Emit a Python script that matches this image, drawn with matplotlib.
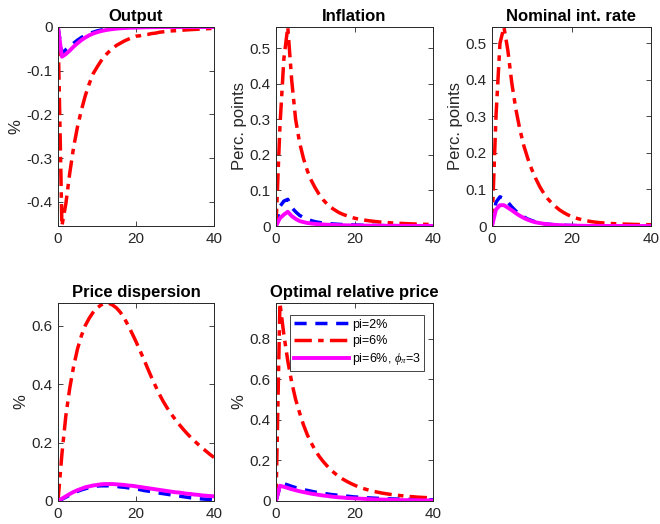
import matplotlib
matplotlib.use("Agg")
import matplotlib.pyplot as plt
from matplotlib.ticker import FormatStrFormatter

plt.rcParams['font.family'] = ['Liberation Sans', 'DejaVu Sans']
plt.rcParams['mathtext.fontset'] = 'custom'
plt.rcParams['mathtext.it'] = 'Liberation Serif:italic'

# quarters after the shock
periods = list(range(41))

# ---------------------------------------------------
# impulse responses
# Output (%)
out_2 = [0, -0.060, -0.052, -0.045, -0.037, -0.030, -0.024, -0.019, -0.015, -0.012,
         -0.009, -0.007, -0.0055, -0.0043, -0.0034, -0.0027, -0.0021, -0.0017, -0.0013, -0.0010,
         -0.0008, -0.0007, -0.0006, -0.0005, -0.0004, -0.0003, -0.0003, -0.0002, -0.0002, -0.0002,
         -0.0001, -0.0001, -0.0001, -0.0001, -0.0001, 0, 0, 0, 0, 0, 0]
out_6 = [0, -0.455, -0.405, -0.335, -0.275, -0.228, -0.190, -0.157, -0.130, -0.107,
         -0.092, -0.078, -0.066, -0.057, -0.049, -0.042, -0.037, -0.032, -0.028, -0.024,
         -0.021, -0.020, -0.018, -0.017, -0.015, -0.014, -0.012, -0.011, -0.010, -0.009,
         -0.0085, -0.008, -0.0072, -0.0066, -0.006, -0.0055, -0.005, -0.0045, -0.004, -0.0036, -0.0032]
out_6phi = [0, -0.068, -0.062, -0.054, -0.045, -0.037, -0.030, -0.024, -0.019, -0.015,
            -0.012, -0.0095, -0.0075, -0.006, -0.0048, -0.0038, -0.003, -0.0024, -0.0019, -0.0015,
            -0.0012, -0.001, -0.0008, -0.0006, -0.0005, -0.0004, -0.0003, -0.0003, -0.0002, -0.0002,
            -0.0001, -0.0001, -0.0001, -0.0001, 0, 0, 0, 0, 0, 0, 0]

# Inflation (perc. points)
infl_2 = [0, 0.055, 0.070, 0.075, 0.052, 0.040, 0.030, 0.024, 0.019, 0.015,
          0.012, 0.010, 0.0085, 0.0072, 0.0062, 0.0054, 0.0047, 0.0041, 0.0036, 0.0032,
          0.0028, 0.0025, 0.0022, 0.002, 0.0018, 0.0016, 0.0014, 0.0013, 0.0012, 0.0011,
          0.001, 0.0009, 0.0008, 0.0007, 0.0007, 0.0006, 0.0006, 0.0005, 0.0005, 0.0004, 0.0004]
infl_6 = [0, 0.28, 0.47, 0.56, 0.41, 0.30, 0.235, 0.19, 0.155, 0.128,
          0.107, 0.089, 0.074, 0.062, 0.052, 0.045, 0.038, 0.033, 0.029, 0.025,
          0.022, 0.0195, 0.0175, 0.0158, 0.0143, 0.013, 0.0118, 0.0108, 0.0099, 0.0091,
          0.0084, 0.0078, 0.0072, 0.0067, 0.0062, 0.0058, 0.0054, 0.005, 0.0047, 0.0044, 0.0041]
infl_6phi = [0, 0.022, 0.032, 0.040, 0.028, 0.020, 0.014, 0.011, 0.0085, 0.007,
             0.0058, 0.005, 0.0043, 0.0037, 0.0032, 0.0028, 0.0024, 0.0021, 0.0019, 0.0017,
             0.0015, 0.0013, 0.0012, 0.0011, 0.001, 0.0009, 0.0008, 0.0007, 0.0007, 0.0006,
             0.0006, 0.0005, 0.0005, 0.0004, 0.0004, 0.0004, 0.0003, 0.0003, 0.0003, 0.0003, 0.0002]

# Nominal interest rate (perc. points)
rate_2 = [0, 0.065, 0.080, 0.075, 0.065, 0.052, 0.041, 0.032, 0.025, 0.019,
          0.015, 0.011, 0.0085, 0.0065, 0.005, 0.004, 0.0031, 0.0025, 0.002, 0.0016,
          0.0013, 0.001, 0.0008, 0.0007, 0.0006, 0.0005, 0.0004, 0.0003, 0.0003, 0.0002,
          0.0002, 0.0002, 0.0001, 0.0001, 0.0001, 0.0001, 0, 0, 0, 0, 0]
rate_6 = [0, 0.30, 0.50, 0.545, 0.48, 0.39, 0.32, 0.265, 0.22, 0.185,
          0.155, 0.13, 0.108, 0.09, 0.075, 0.063, 0.053, 0.044, 0.037, 0.031,
          0.026, 0.022, 0.019, 0.016, 0.014, 0.012, 0.0105, 0.0093, 0.0083, 0.0075,
          0.0068, 0.0062, 0.0057, 0.0053, 0.0049, 0.0046, 0.0043, 0.0041, 0.0039, 0.0037, 0.0035]
rate_6phi = [0, 0.045, 0.057, 0.057, 0.050, 0.043, 0.035, 0.028, 0.022, 0.017,
             0.013, 0.010, 0.008, 0.0062, 0.0048, 0.0038, 0.003, 0.0024, 0.0019, 0.0015,
             0.0012, 0.001, 0.0008, 0.0006, 0.0005, 0.0004, 0.0003, 0.0003, 0.0002, 0.0002,
             0.0002, 0.0001, 0.0001, 0.0001, 0.0001, 0, 0, 0, 0, 0, 0]

# Price dispersion (%)
disp_2 = [0, 0.006, 0.013, 0.020, 0.027, 0.033, 0.038, 0.042, 0.046, 0.049,
          0.051, 0.052, 0.052, 0.052, 0.051, 0.050, 0.048, 0.047, 0.045, 0.043,
          0.041, 0.039, 0.036, 0.034, 0.032, 0.029, 0.027, 0.025, 0.023, 0.021,
          0.019, 0.017, 0.015, 0.013, 0.011, 0.010, 0.008, 0.007, 0.006, 0.005, 0.004]
disp_6 = [0, 0.16, 0.29, 0.385, 0.46, 0.52, 0.565, 0.60, 0.625, 0.645,
          0.66, 0.67, 0.677, 0.676, 0.67, 0.66, 0.645, 0.625, 0.60, 0.573,
          0.545, 0.515, 0.485, 0.453, 0.422, 0.393, 0.365, 0.34, 0.318, 0.298,
          0.28, 0.263, 0.247, 0.232, 0.218, 0.205, 0.193, 0.181, 0.17, 0.159, 0.149]
disp_6phi = [0, 0.008, 0.016, 0.024, 0.031, 0.037, 0.042, 0.047, 0.050, 0.053,
             0.055, 0.057, 0.058, 0.058, 0.058, 0.057, 0.056, 0.055, 0.053, 0.052,
             0.050, 0.048, 0.046, 0.044, 0.042, 0.040, 0.038, 0.036, 0.034, 0.032,
             0.030, 0.029, 0.027, 0.025, 0.024, 0.022, 0.021, 0.019, 0.018, 0.017, 0.016]

# Optimal relative price (%)
orp_2 = [0, 0.07, 0.085, 0.079, 0.072, 0.066, 0.061, 0.056, 0.052, 0.048,
         0.044, 0.041, 0.038, 0.035, 0.032, 0.030, 0.028, 0.026, 0.024, 0.022,
         0.020, 0.019, 0.018, 0.016, 0.015, 0.014, 0.013, 0.012, 0.011, 0.0105,
         0.010, 0.0095, 0.009, 0.0085, 0.008, 0.0075, 0.0072, 0.0068, 0.0065, 0.0062, 0.006]
orp_6 = [0, 0.975, 0.82, 0.69, 0.585, 0.50, 0.435, 0.375, 0.325, 0.285,
         0.25, 0.22, 0.195, 0.173, 0.153, 0.136, 0.121, 0.108, 0.097, 0.087,
         0.078, 0.07, 0.063, 0.057, 0.052, 0.047, 0.043, 0.039, 0.036, 0.033,
         0.03, 0.028, 0.026, 0.024, 0.022, 0.021, 0.019, 0.018, 0.017, 0.016, 0.015]
orp_6phi = [0, 0.075, 0.070, 0.064, 0.058, 0.053, 0.048, 0.044, 0.040, 0.036,
            0.033, 0.030, 0.027, 0.025, 0.022, 0.020, 0.018, 0.017, 0.015, 0.014,
            0.013, 0.012, 0.011, 0.010, 0.009, 0.008, 0.0075, 0.007, 0.0065, 0.006,
            0.0055, 0.005, 0.0045, 0.0042, 0.004, 0.0037, 0.0035, 0.0032, 0.003, 0.0028, 0.0026]

titles = ["Output", "Inflation", "Nominal int. rate", "Price dispersion", "Optimal relative price"]
ylabels = ["%", "Perc. points", "Perc. points", "%", "%"]
series_2 = [out_2, infl_2, rate_2, disp_2, orp_2]
series_6 = [out_6, infl_6, rate_6, disp_6, orp_6]
series_6phi = [out_6phi, infl_6phi, rate_6phi, disp_6phi, orp_6phi]
yticks = [[-0.4, -0.3, -0.2, -0.1, 0],
          [0, 0.1, 0.2, 0.3, 0.4, 0.5],
          [0, 0.1, 0.2, 0.3, 0.4, 0.5],
          [0, 0.2, 0.4, 0.6],
          [0, 0.2, 0.4, 0.6, 0.8]]
legend_labels = ["pi=2%", "pi=6%", r"pi=6%, $\phi_\pi$=3"]

# ---------------------------------------------------
# figure with axes placed like the MATLAB subplot grid (pixel boxes)
W, H = 660, 524
fig = plt.figure(figsize=(6.6, 5.24), dpi=100)
boxes = [(58, 27, 156, 199), (276, 27, 157, 199), (492, 27, 159, 199),
         (58, 303, 156, 198), (276, 303, 157, 198)]

gray = (0.15, 0.15, 0.15)
for i in range(5):
    l, t, w, h = boxes[i]
    ax = fig.add_axes([l / W, 1 - (t + h) / H, w / W, h / H])
    ax.plot(periods, series_2[i], color='blue', lw=2.5, dashes=(3.5, 2.5),
            label=legend_labels[0])
    ax.plot(periods, series_6[i], color='red', lw=2.5, dashes=(5, 1.8, 1.6, 1.8),
            label=legend_labels[1])
    ax.plot(periods, series_6phi[i], color='magenta', lw=2.8, ls='-',
            label=legend_labels[2])

    lo = min(min(series_2[i]), min(series_6[i]), min(series_6phi[i]))
    hi = max(max(series_2[i]), max(series_6[i]), max(series_6phi[i]))
    ax.set_xlim(0, 40)
    ax.set_ylim(lo, hi)
    ax.set_xticks([0, 20, 40])
    ax.set_yticks(yticks[i])
    ax.yaxis.set_major_formatter(FormatStrFormatter('%g'))
    ax.tick_params(direction='in', top=True, right=True, length=3.5, width=0.6,
                   labelsize=11, colors=gray, pad=4)
    for s in ax.spines.values():
        s.set_color(gray)
        s.set_linewidth(0.7)
    ax.set_title(titles[i], fontsize=12, fontweight='bold', pad=4)
    ax.set_ylabel(ylabels[i], fontsize=12, color=gray, labelpad=2)

    if i == 4:
        leg = ax.legend(loc='upper right', bbox_to_anchor=(0.945, 0.94),
                        fontsize=9, handlelength=4.4, handletextpad=0.2,
                        borderpad=0.3, labelspacing=0.35, borderaxespad=0,
                        fancybox=False, framealpha=1, edgecolor=gray)
        leg.get_frame().set_linewidth(0.6)

fig.savefig("out.png", dpi=100)
